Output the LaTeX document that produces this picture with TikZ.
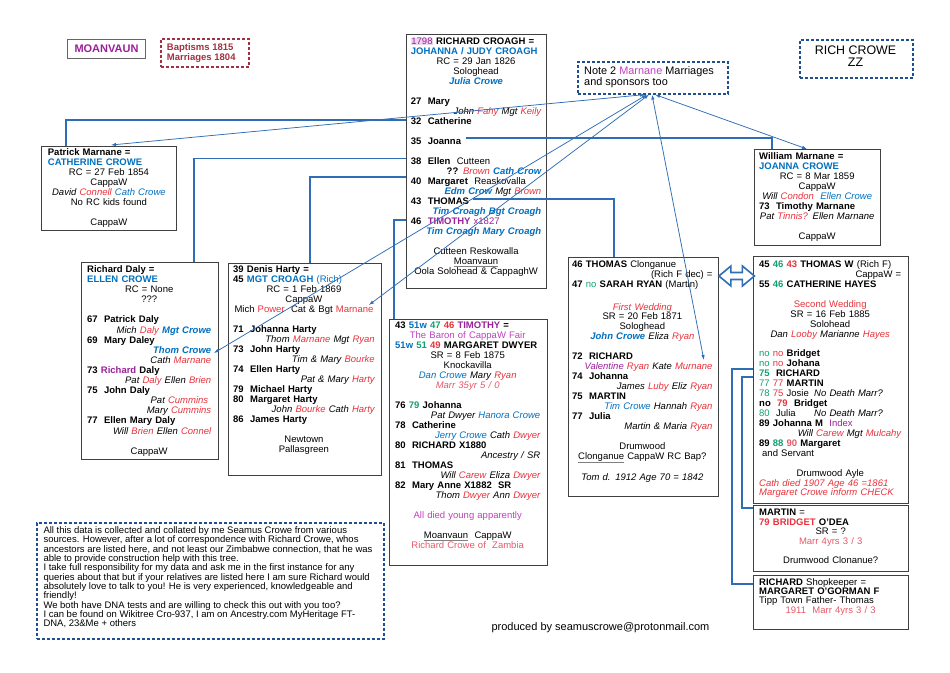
\documentclass[tikz,border=0pt]{standalone}
\usepackage{fontspec}
\setmainfont{Liberation Sans}
\usetikzlibrary{arrows.meta,calc}
\definecolor{cblue}{HTML}{0070C0}
\definecolor{cred}{HTML}{E8323C}
\definecolor{cpnk}{HTML}{E85868}
\definecolor{cpur}{HTML}{9A209A}
\definecolor{cmag}{HTML}{C040C0}
\definecolor{cgrn}{HTML}{10A070}
\definecolor{cdred}{HTML}{A33040}
\definecolor{lblue}{HTML}{2F6DB5}
\definecolor{dblue}{HTML}{1F4F8F}
\definecolor{bord}{HTML}{404040}
\newcommand\cBlu[1]{\textcolor{cblue}{#1}}
\newcommand\cRed[1]{\textcolor{cred}{#1}}
\newcommand\cPnk[1]{\textcolor{cpnk}{#1}}
\newcommand\cPur[1]{\textcolor{cpur}{#1}}
\newcommand\cMag[1]{\textcolor{cmag}{#1}}
\newcommand\cGrn[1]{\textcolor{cgrn}{#1}}
\newcommand\Ctr[1]{\makebox[\linewidth][c]{#1}}
\newcommand\Rgt[1]{\makebox[\linewidth][r]{#1}}
\newcommand\gul[1]{\textcolor{gray}{\underline{\textcolor{black}{#1}}}}
\begin{document}
\begin{tikzpicture}[x=1pt,y=1pt,
  pbox/.style={draw=bord, line width=0.9pt, inner sep=0pt, anchor=north west},
  ptxt/.style={inner sep=0pt, anchor=north west, align=left, font=\fontsize{9.5}{10}\selectfont},
  dbox/.style={draw=dblue, line width=1.6pt, dash pattern=on 3pt off 2pt, inner sep=0pt, anchor=north west},
  tconn/.style={draw=lblue, line width=1.6pt},
  tlink/.style={draw=lblue, line width=0.75pt, arrows={Latex[length=5pt,width=3.5pt]-Latex[length=5pt,width=3.5pt]}},
  dblarrow/.style={draw=lblue, line width=1.6pt, fill=white, line join=miter}
]
\fill[white] (0,0) rectangle (950,-672);
\useasboundingbox (0,0) rectangle (950,-672);

% header boxes
\node[pbox, draw=gray!80!black, line width=1pt, minimum width=78pt, minimum height=19pt,
  text=cpur, font=\fontsize{11}{12}\selectfont\bfseries] (moan) at (67,-39) {MOANVAUN};
\node[dbox, draw=cdred, minimum width=88pt, minimum height=28pt] (bapt) at (160,-38) {};
\node[inner sep=0pt, anchor=north west, align=left, text=cdred,
  font=\fontsize{9.5}{9.5}\selectfont\bfseries] (baptt) at ([xshift=6.7pt,yshift=-5.8pt]bapt.north west)
  {Baptisms 1815\\Marriages 1804};
\node[dbox, minimum width=113pt, minimum height=38pt] (rich) at (799,-39) {};
\node[inner sep=0pt, align=center, font=\fontsize{12.4}{12.4}\selectfont] (richt) at (855.5,-56)
  {RICH CROWE\\ZZ};
\node[dbox, minimum width=150pt, minimum height=32pt] (note) at (577,-61) {};
\node[inner sep=0pt, anchor=north west, align=left, font=\fontsize{10.9}{11}\selectfont] (notet)
  at ([xshift=7pt,yshift=-5.7pt]note.north west)
  {Note 2 \cMag{Marnane} Marriages\\and sponsors too};

% family boxes
\node[pbox, minimum width=135pt, minimum height=84pt] (pm) at (41,-146) {};
\node[pbox, minimum width=140pt, minimum height=254pt] (cb) at (405.7,-34) {};
\node[pbox, minimum width=126pt, minimum height=96pt] (wm) at (754,-149) {};
\node[pbox, minimum width=137pt, minimum height=197pt] (rd) at (81,-262) {};
\node[pbox, minimum width=153pt, minimum height=212pt] (dh) at (228,-263) {};
\node[pbox, minimum width=158pt, minimum height=246pt] (tb) at (389,-319) {};
\node[pbox, minimum width=150pt, minimum height=239pt] (tc) at (568,-257) {};
\node[pbox, minimum width=155pt, minimum height=247pt] (tw) at (753,-256) {};
\node[pbox, minimum width=155pt, minimum height=66pt] (ms) at (753,-505) {};
\node[pbox, minimum width=155pt, minimum height=54pt] (rs) at (753,-575) {};
\node[dbox, minimum width=347pt, minimum height=116pt] (bt) at (36,-522) {};

% texts
\node[ptxt, text width=122pt] (pmt) at ([xshift=6.7pt,yshift=-2.2pt]pm.north west) {%
\textbf{Patrick Marnane =}\\
\textbf{\cBlu{CATHERINE CROWE}}\\
\Ctr{RC = 27 Feb 1854}\\
\Ctr{CappaW}\\
\Ctr{\itshape David \cRed{Connell} \cBlu{Cath Crowe}}\\
\Ctr{No RC kids found}\\[10pt]
\Ctr{CappaW}};

\node[ptxt, text width=130.3pt] (cbt) at ([xshift=5pt,yshift=-3.5pt]cb.north west) {%
\textbf{{\setlength{\fboxsep}{0.5pt}\colorbox{cpur!18}{\textcolor{cpur}{\mdseries 1798}}} RICHARD CROAGH =}\\
\textbf{\cBlu{JOHANNA / JUDY CROAGH}}\\
\Ctr{RC = 29 Jan 1826}\\
\Ctr{Sologhead}\\
\Ctr{\bfseries\itshape\cBlu{Julia Crowe}}\\[10pt]
\textbf{27~~Mary}\\
\Rgt{\itshape John \cRed{Fahy} Mgt \cRed{Keily}}\\
\textbf{32~~Catherine}\\[10pt]
\textbf{35~~Joanna}\\[10pt]
\textbf{38~~Ellen}~~Cutteen\\
\Rgt{\textbf{??} \itshape\cRed{Brown} \bfseries\cBlu{Cath Crow}}\\
\textbf{40~~Margaret}~~Reaskovalla\\
\Rgt{\itshape\cBlu{\bfseries Edm Crow} Mgt \cRed{Brown}}\\
\textbf{43~~THOMAS}\\
\Rgt{\bfseries\itshape\cBlu{Tim Croagh Bgt Croagh}}\\
\textbf{46~~\cPur{TIMOTHY}} \cPur{x1827}\\
\Rgt{\bfseries\itshape\cBlu{Tim Croagh Mary Croagh}}\\[10pt]
\Ctr{Cutteen Reskowalla}\\
\Ctr{\gul{Moanvaun}}\\
\Ctr{Oola Solohead \& CappaghW}};

\node[ptxt, text width=116pt] (wmt) at ([xshift=5pt,yshift=-3.5pt]wm.north west) {%
\textbf{William Marnane =}\\
\textbf{\cBlu{JOANNA CROWE}}\\
\Ctr{RC = 8 Mar 1859}\\
\Ctr{CappaW}\\
\Ctr{\itshape Will \cRed{Condon}~~\cBlu{Ellen Crowe}}\\
\textbf{73~~Timothy Marnane}\\
\Ctr{\itshape Pat \cRed{Tinnis?} Ellen Marnane}\\[10pt]
\Ctr{CappaW}};

\node[ptxt, text width=124pt, font=\fontsize{9.5}{10.1}\selectfont] (rdt) at ([xshift=6pt,yshift=-3.5pt]rd.north west) {%
\textbf{Richard Daly =}\\
\textbf{\cBlu{ELLEN CROWE}}\\
\Ctr{RC = None}\\
\Ctr{???}\\[10pt]
\textbf{67~~Patrick Daly}\\
\Rgt{\itshape Mich \cRed{Daly} \bfseries\cBlu{Mgt Crowe}}\\
\textbf{69~~Mary Daley}\\
\Rgt{\bfseries\itshape\cBlu{Thom Crowe}}\\
\Rgt{\itshape Cath \cRed{Marnane}}\\
\textbf{73 \cPur{Richard} Daly}\\
\Rgt{\itshape Pat \cRed{Daly} Ellen \cRed{Brien}}\\
\textbf{75~~John Daly}\\
\Rgt{\itshape Pat \cRed{Cummins}\hspace{3pt}}\\
\Rgt{\itshape Mary \cRed{Cummins}}\\
\textbf{77~~Ellen Mary Daly}\\
\Rgt{\itshape Will \cRed{Brien} Ellen \cRed{Connel}}\\[10pt]
\Ctr{CappaW}};

\node[ptxt, text width=141.5pt] (dht) at ([xshift=5pt,yshift=-2.5pt]dh.north west) {%
\textbf{39 Denis Harty =}\\
\textbf{45 \cBlu{MGT CROAGH} \mdseries\cBlu{(Rich)}}\\
\Ctr{RC = 1 Feb 1869}\\
\Ctr{CappaW}\\
\Ctr{Mich \cRed{Power}~~Cat \& Bgt \cRed{Marnane}}\\[10pt]
\textbf{71~~Johanna Harty}\\
\Rgt{\itshape Thom \cRed{Marnane} Mgt \cRed{Ryan}}\\
\textbf{73~~John Harty}\\
\Rgt{\itshape Tim \& Mary \cRed{Bourke}}\\
\textbf{74~~Ellen Harty}\\
\Rgt{\itshape Pat \& Mary \cRed{Harty}}\\
\textbf{79~~Michael Harty}\\
\textbf{80~~Margaret Harty}\\
\Rgt{\itshape John \cRed{Bourke} Cath \cRed{Harty}}\\
\textbf{86~~James Harty}\\[10pt]
\Ctr{Newtown}\\
\Ctr{Pallasgreen}};

\node[ptxt, text width=145pt] (tbt) at ([xshift=6pt,yshift=-2.5pt]tb.north west) {%
\textbf{43 \cBlu{51w} \cGrn{47} \cRed{46} \cPur{TIMOTHY} =}\\
\Ctr{\cMag{The Baron of CappaW Fair}}\\
\textbf{\cBlu{51w} \cGrn{51} \cRed{49} MARGARET DWYER}\\
\Ctr{SR = 8 Feb 1875}\\
\Ctr{Knockavilla}\\
\Ctr{\itshape\cBlu{Dan Crowe} Mary \cRed{Ryan}}\\
\Ctr{\itshape\cPnk{Marr 35yr 5 / 0}}\\[10pt]
\textbf{76 \cGrn{79} Johanna}\\
\Rgt{\itshape Pat Dwyer \cBlu{Hanora Crowe}}\\
\textbf{78~~Catherine}\\
\Rgt{\itshape\cBlu{Jerry Crowe} Cath \cRed{Dwyer}}\\
\textbf{80~~RICHARD X1880}\\
\Rgt{\itshape Ancestry / SR}\\
\textbf{81~~THOMAS}\\
\Rgt{\itshape Will \cRed{Carew} Eliza \cRed{Dwyer}}\\
\textbf{82~~Mary Anne X1882~~SR}\\
\Rgt{\itshape Thom \cRed{Dwyer} Ann \cRed{Dwyer}}\\[10pt]
\Ctr{\cMag{All died young apparently}}\\[10pt]
\Ctr{\gul{Moanvaun}~~CappaW}\\
\Ctr{\cPnk{Richard Crowe of~~Zambia}}};

\node[ptxt, text width=140.3pt] (tct) at ([xshift=4pt,yshift=-3.5pt]tc.north west) {%
\textbf{46 THOMAS} Clonganue\\
\Rgt{(Rich F dec) =}\\
\textbf{47 \mdseries\cGrn{no} \bfseries SARAH RYAN} (Martin)\\[13pt]
\Ctr{\itshape\cRed{First Wedding}}\\[-1.5pt]
\Ctr{SR = 20 Feb 1871}\\
\Ctr{Sologhead}\\
\Ctr{\itshape\cBlu{\bfseries John Crowe} Eliza \cRed{Ryan}}\\[10pt]
\textbf{72~~RICHARD}\\
\Rgt{\itshape\cPur{Valentine} \cRed{Ryan} Kate \cRed{Murnane}}\\
\textbf{74~~Johanna}\\
\Rgt{\itshape James \cRed{Luby} Eliz \cRed{Ryan}}\\
\textbf{75~~MARTIN}\\
\Rgt{\itshape\cBlu{Tim Crowe} Hannah \cRed{Ryan}}\\
\textbf{77~~Julia}\\
\Rgt{\itshape Martin \& Maria \cRed{Ryan}}\\[10pt]
\Ctr{Drumwood}\\
\Ctr{\gul{Clonganue} CappaW RC Bap?}\\[10pt]
\Ctr{\itshape Tom d. 1912 Age 70 = 1842}};

\node[ptxt, text width=142pt, font=\fontsize{9.5}{9.93}\selectfont] (twt) at ([xshift=6pt,yshift=-4.5pt]tw.north west) {%
\textbf{45 \cGrn{46} \cRed{43} THOMAS W} (Rich F)\\
\Rgt{CappaW =}\\
\textbf{55 \cGrn{46} CATHERINE HAYES}\\[9.93pt]
\Ctr{\cRed{Second Wedding}}\\
\Ctr{SR = 16 Feb 1885}\\
\Ctr{Solohead}\\
\Ctr{\itshape Dan \cRed{Looby} Marianne \cRed{Hayes}}\\[9.93pt]
\cGrn{no} \cRed{no} \textbf{Bridget}\\
\cGrn{no} \cRed{no} \textbf{Johana}\\
\textbf{\cGrn{75}~~RICHARD}\\
\cGrn{77} \cRed{77} \textbf{MARTIN}\\
\makebox[55pt][l]{\cGrn{78} \cRed{75} Josie}\textit{No Death Marr?}\\
\textbf{no~~\cRed{79}~~Bridget}\\
\makebox[55pt][l]{\cGrn{80}~~Julia}\textit{No Death Marr?}\\
\textbf{89 Johanna M}~~\cPur{Index}\\
\Rgt{\itshape Will \cRed{Carew} Mgt \cRed{Mulcahy}}\\
\textbf{89 \cGrn{88} \cPnk{90} Margaret}\\
\hspace*{3pt}and Servant\\[9.93pt]
\Ctr{Drumwood Ayle}\\
{\itshape\cRed{Cath died 1907 Age 46 =1861}}\\
{\itshape\cRed{Margaret Crowe inform CHECK}}};

\node[ptxt, text width=143pt, font=\fontsize{9.5}{9.5}\selectfont] (mst) at ([xshift=6pt,yshift=-4.2pt]ms.north west) {%
\textbf{MARTIN} =\\
\textbf{\cRed{79 BRIDGET} O'DEA}\\
\Ctr{SR = ?}\\
\Ctr{\cPnk{Marr 4yrs 3 / 3}}\\[10pt]
\Ctr{Drumwood Clonanue?}};

\node[ptxt, text width=143pt, font=\fontsize{9.5}{9.3}\selectfont] (rst) at ([xshift=6pt,yshift=-3.2pt]rs.north west) {%
\textbf{RICHARD} Shopkeeper =\\
\textbf{MARGARET O'GORMAN F}\\
Tipp Town Father- Thomas\\
\Ctr{\cPnk{1911~~Marr 4yrs 3 / 3}}};

\node[inner sep=0pt, anchor=north west, align=left, font=\fontsize{9.5}{9.33}\selectfont] (btt)
  at ([xshift=7.3pt,yshift=-4.5pt]bt.north west) {%
All this data is collected and collated by me Seamus Crowe from various\\
sources. However, after a lot of correspondence with Richard Crowe, whos\\
ancestors are listed here, and not least our Zimbabwe connection, that he was\\
able to provide construction help with this tree.\\
I take full responsibility for my data and ask me in the first instance for any\\
queries about that but if your relatives are listed here I am sure Richard would\\
absolutely love to talk to you! He is very experienced, knowledgeable and\\
friendly!\\
We both have DNA tests and are willing to check this out with you too?\\
I can be found on Wikitree Cro-937, I am on Ancestry.com MyHeritage FT-\\
DNA, 23\&Me + others};

\node[inner sep=0pt, font=\fontsize{11}{12}\selectfont] (prod) at (600.5,-627.5)
  {produced by seamuscrowe@protonmail.com};

% thick connectors
\draw[tconn] ([yshift=-86pt]cb.north west) -| ([xshift=25pt]pm.north west);
\draw[tconn] ([xshift=60pt,yshift=-104pt]cb.north west) -| ([xshift=18pt]wm.north west);
\draw[tconn] ([yshift=-124.5pt]cb.north west) -| ([xshift=113pt]rd.north west);
\draw[tconn] ([yshift=-143pt]cb.north west) -| ([xshift=82pt]dh.north west);
\draw[tconn] ([xshift=67pt,yshift=-165pt]cb.north west) -| ([xshift=46pt]tc.north west);
\draw[tconn] ([yshift=-186pt]cb.north west) -| ([xshift=5pt]tb.north west);
\draw[tconn] ([yshift=-113pt]tw.north west) -- ++(-21,0) |- ([yshift=-9pt]rs.north west);
\draw[tconn] ([yshift=-121pt]tw.north west) -- ++(-11,0) |- ([yshift=-3pt]ms.north west);

% double arrow between the two Thomas boxes
\coordinate (dA) at ([yshift=-19pt]tc.north east);
\draw[dblarrow] (dA) -- ++(12,10) -- ++(0,-6.5) -- ++(11.5,0) -- ++(0,6.5) -- ++(12,-10)
  -- ++(-12,-10) -- ++(0,6.5) -- ++(-11.5,0) -- ++(0,-6.5) -- cycle;

% thin links from the note
\draw[tlink] ([xshift=68pt]note.south west) -- ([xshift=70pt,yshift=1pt]pm.north west);
\draw[tlink] ([xshift=70pt]note.south west) -- ([xshift=-5pt,yshift=-91pt]rd.north east);
\draw[tlink] ([xshift=72pt]note.south west) -- ([xshift=-13pt,yshift=-42pt]dh.north east);
\draw[tlink] ([xshift=75pt]note.south west) -- ([xshift=-15pt,yshift=-103pt]tc.north east);
\draw[tlink] ([xshift=78pt]note.south west) -- ([xshift=53pt]wm.north west);
\end{tikzpicture}
\end{document}
